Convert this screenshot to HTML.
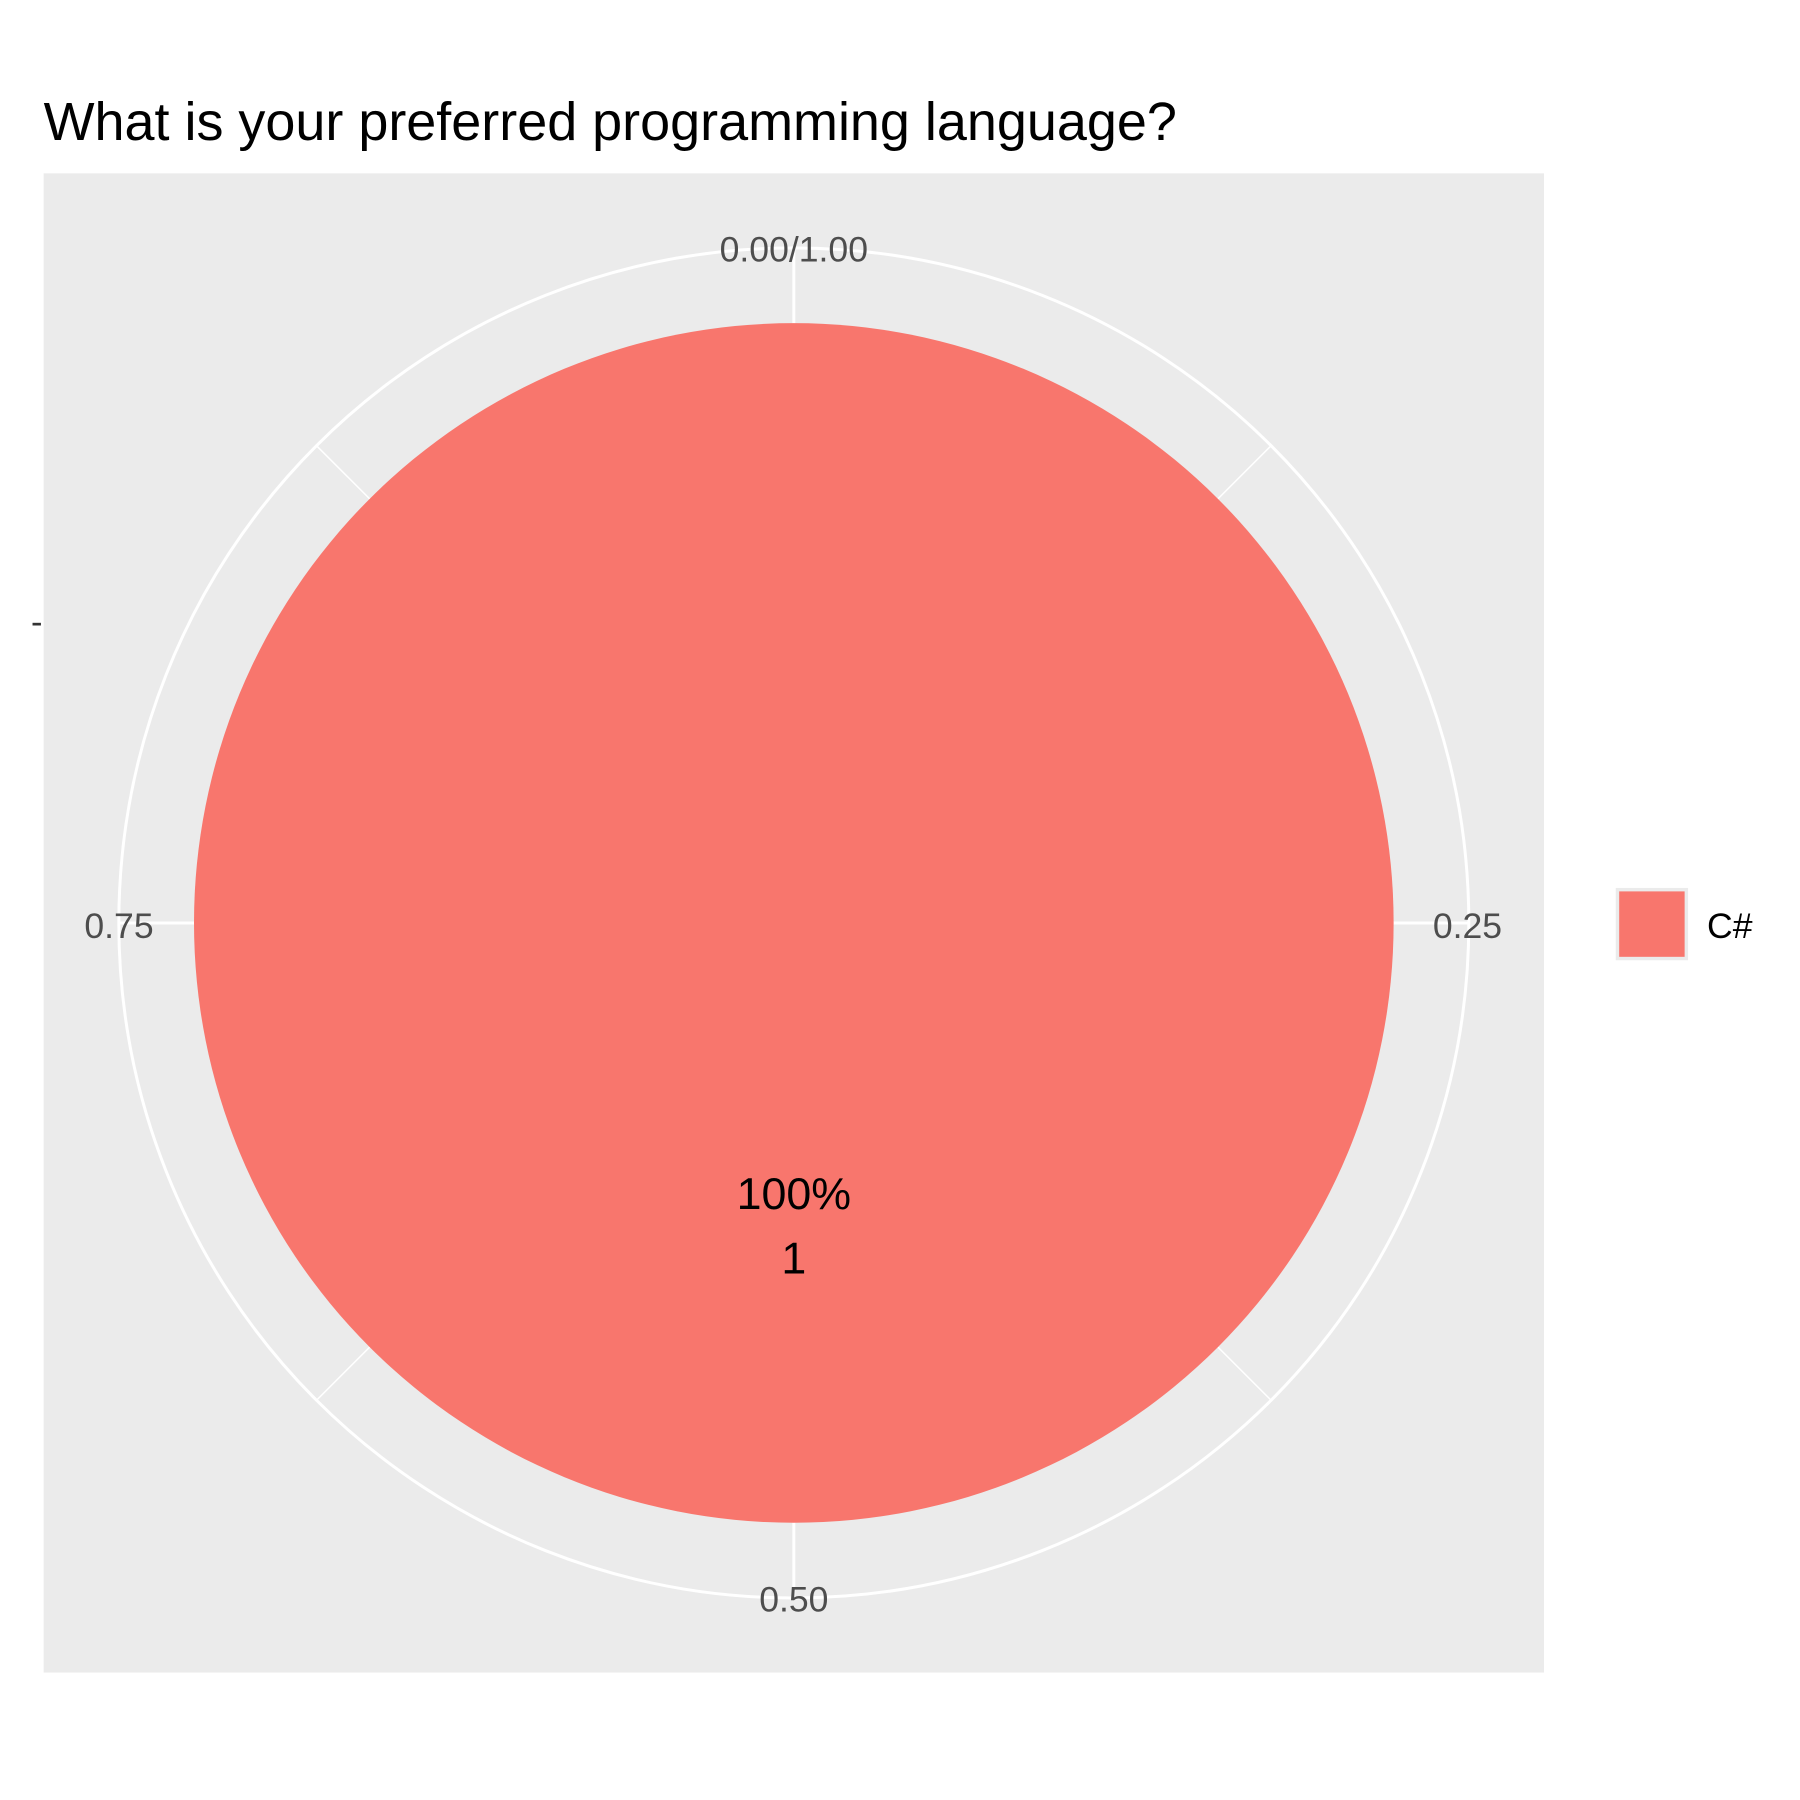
<!DOCTYPE html>
<html><head><meta charset="utf-8"><style>
html,body{margin:0;padding:0;background:#fff}
svg{display:block}
text{font-family:"Liberation Sans",Arial,sans-serif}
</style></head><body>
<svg id="chart" width="1800" height="1800" viewBox="0 0 1568 1568">
<rect x="0" y="0" width="1568" height="1568" fill="#fff"/>
<text x="38" y="122" font-size="47" fill="#000">What is your preferred programming language?</text>
<rect x="38" y="151" width="1307" height="1306" fill="#ebebeb"/>
<g id="grid"></g>
<g id="slices"></g>
<g id="labels"></g>
<text x="27" y="552" font-size="30" fill="#333">-</text>
<g id="legend"></g>
</svg>
<script>
const categories = ["C#"];
const values = [1];
const percentLabels = ["100%"];
const tickValues = [0, 0.25, 0.5, 0.75];
const tickLabels = ["0.00/1.00", "0.25", "0.50", "0.75"];
const colors = ["#F8766D"];

const NS = "http://www.w3.org/2000/svg";
const cx = 691.5, cy = 804, rPie = 522.5, rOuter = 588;
const total = values.reduce((a, b) => a + b, 0);
function ang(v) { return v * 2 * Math.PI; }
function pt(a, r) { return [cx + r * Math.sin(a), cy - r * Math.cos(a)]; }
function mk(tag, attrs, parent) { const e = document.createElementNS(NS, tag); for (const k in attrs) e.setAttribute(k, attrs[k]); parent.appendChild(e); return e; }

const grid = document.getElementById("grid");
const oc = mk("circle", {cx: cx, cy: cy, r: rOuter, fill: "none", stroke: "#fff", "stroke-width": 2.6}, grid);


for (let i = 0; i < 8; i++) {
  const a = ang(i / 8);
  const p1 = pt(a, 0), p2 = pt(a, rOuter);
  const l = mk("line", {x1: p1[0], y1: p1[1], x2: p2[0], y2: p2[1], stroke: "#fff", "stroke-width": i % 2 ? 1.3 : 2.6}, grid);
  
  
}

const slices = document.getElementById("slices");
const labels = document.getElementById("labels");
let cum = 0;
values.forEach((v, i) => {
  const frac = v / total;
  let el;
  if (frac >= 0.9999) {
    el = mk("circle", {cx: cx, cy: cy, r: rPie, fill: colors[i % colors.length]}, slices);
  } else {
    const a0 = ang(cum), a1 = ang(cum + frac);
    const p0 = pt(a0, rPie), p1 = pt(a1, rPie);
    el = mk("path", {d: `M${cx},${cy} L${p0[0]},${p0[1]} A${rPie},${rPie} 0 ${frac > 0.5 ? 1 : 0} 1 ${p1[0]},${p1[1]} Z`, fill: colors[i % colors.length]}, slices);
  }
  
  
  const mid = ang(cum + frac / 2);
  const lp = pt(mid, rPie * 0.5);
  const t1 = mk("text", {x: lp[0], y: lp[1] - 12, "font-size": 39, "text-anchor": "middle", fill: "#000"}, labels);
  t1.textContent = percentLabels[i];
  
  
  const t2 = mk("text", {x: lp[0], y: lp[1] + 44, "font-size": 39, "text-anchor": "middle", fill: "#000"}, labels);
  t2.textContent = String(v);
  
  
  cum += frac;
});

tickValues.forEach((tv, i) => {
  const a = ang(tv);
  const p = pt(a, rOuter - 26);
  let anchor = "middle";
  if (Math.abs(Math.sin(a)) > 0.5) anchor = Math.sin(a) > 0 ? "end" : "start";
  const px = anchor === "end" ? p[0] + 55 : anchor === "start" ? p[0] - 56 : p[0];
  let py = p[1] + 13;
  if (Math.cos(a) > 0.5) py = cy - rOuter + 12;
  if (Math.cos(a) < -0.5) py = cy + rOuter + 12;
  const t = mk("text", {x: px, y: py, "font-size": 31, "text-anchor": anchor, fill: "#4d4d4d"}, labels);
  t.textContent = tickLabels[i];
  
  
});

const legend = document.getElementById("legend");
categories.forEach((c, i) => {
  const y = 775 + i * 62;
  const r = mk("rect", {x: 1409, y: y, width: 60, height: 60, fill: colors[i % colors.length], stroke: "#ebebeb", "stroke-width": 3}, legend);
  
  
  const t = mk("text", {x: 1487, y: y + 42, "font-size": 31, fill: "#000"}, legend);
  t.textContent = c;
  
  
});
</script>
</body></html>
